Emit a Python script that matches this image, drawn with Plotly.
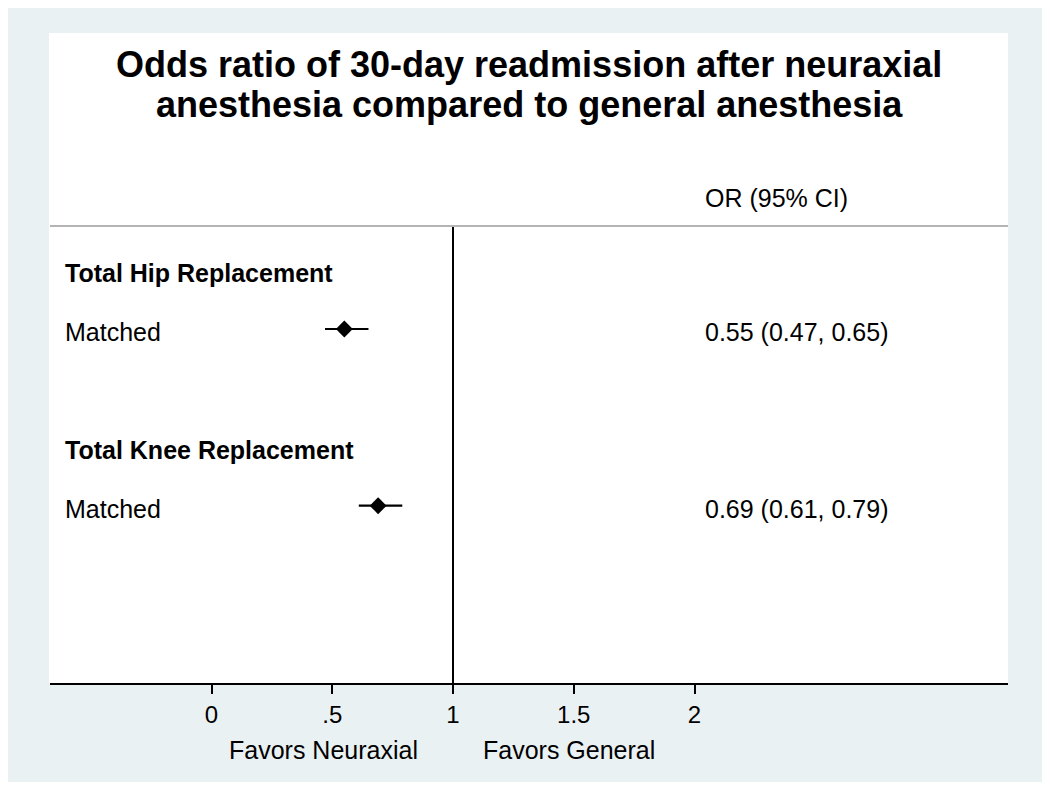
import plotly.graph_objects as go

# ---- data ----
groups = ["Total Hip Replacement", "Total Knee Replacement"]
row_labels = ["Matched", "Matched"]
odds_ratio = [0.55, 0.69]
ci_low = [0.47, 0.61]
ci_high = [0.65, 0.79]
or_text = ["0.55 (0.47, 0.65)", "0.69 (0.61, 0.79)"]
tick_vals = [0, 0.5, 1, 1.5, 2]
tick_text = ["0", ".5", "1", "1.5", "2"]
title_lines = ["Odds ratio of 30-day readmission after neuraxial",
               "anesthesia compared to general anesthesia"]
header_text = "OR (95% CI)"
favors = ["Favors Neuraxial", "Favors General"]

# row positions (heading row, estimate row) for each group
head_rows = [1, 4]
est_rows = [2, 5]

FONT = "Liberation Sans, Arial, sans-serif"
OFF = 8  # page body margin

# target page-pixel geometry of plot area
PL, PT, PR, PB = 50, 33, 1008, 683
W, H = PR - PL, PB - PT
FW, FH = 1050 - OFF, 789 - OFF
L, T = PL - OFF, PT - OFF

fig = go.Figure()
fig.add_trace(go.Scatter(
    x=odds_ratio, y=est_rows, mode="markers",
    marker=dict(symbol="diamond", size=13, color="black"),
    error_x=dict(type="data", symmetric=False,
                 array=[h - o for h, o in zip(ci_high, odds_ratio)],
                 arrayminus=[o - l for o, l in zip(odds_ratio, ci_low)],
                 thickness=2.2, width=0, color="black"),
    showlegend=False, hoverinfo="skip"))


def px_x(p):
    return (p - PL) / W


def px_y(p):
    return (PB - p) / H


shapes = [
    dict(type="rect", xref="paper", yref="paper", x0=px_x(7), x1=px_x(1043),
         y0=px_y(782), y1=px_y(6), fillcolor="#eaf1f3", line=dict(width=0), layer="below"),
    dict(type="rect", xref="paper", yref="paper", x0=px_x(49), x1=1,
         y0=0, y1=1, fillcolor="white", line=dict(width=0), layer="below"),
    dict(type="line", xref="paper", yref="paper", x0=0, x1=1,
         y0=px_y(226), y1=px_y(226), line=dict(color="#b4b4b4", width=2)),
    dict(type="line", xref="x", yref="paper", x0=1, x1=1,
         y0=0, y1=px_y(227), line=dict(color="black", width=2)),
]

ann = []
for i in range(len(groups)):
    ann.append(dict(text="<b>%s</b>" % groups[i], x=px_x(63), xref="paper", y=head_rows[i], yref="y",
                    xanchor="left", yanchor="middle", showarrow=False, yshift=-3,
                    font=dict(family=FONT, size=25, color="black")))
    ann.append(dict(text=row_labels[i], x=px_x(63), xref="paper", y=est_rows[i], yref="y",
                    xanchor="left", yanchor="middle", showarrow=False, yshift=-3,
                    font=dict(family=FONT, size=25, color="black")))
    ann.append(dict(text=or_text[i], x=px_x(703), xref="paper", y=est_rows[i], yref="y",
                    xanchor="left", yanchor="middle", showarrow=False, yshift=-3,
                    font=dict(family=FONT, size=25, color="black")))
ann.append(dict(text=header_text, x=px_x(703), xref="paper", y=px_y(198), yref="paper",
                xanchor="left", yanchor="middle", showarrow=False,
                font=dict(family=FONT, size=25, color="black")))
for i, t in enumerate(title_lines):
    ann.append(dict(text="<b>%s</b>" % t, x=0.5, xref="paper", y=px_y([65, 105][i]), yref="paper",
                    xanchor="center", yanchor="middle", showarrow=False,
                    font=dict(family=FONT, size=36, color="black")))
for t, cx in zip(favors, [323, 569]):
    ann.append(dict(text=t, x=px_x(cx), xref="paper", y=px_y(750), yref="paper",
                    xanchor="center", yanchor="middle", showarrow=False,
                    font=dict(family=FONT, size=25, color="black")))

x0_px, scale = 211.5, 241.5
y_px2, rowh = 329, 58.9

fig.update_layout(
    width=FW, height=FH,
    margin=dict(l=L, r=FW - L - W, t=T, b=FH - T - H),
    paper_bgcolor="white", plot_bgcolor="rgba(0,0,0,0)",
    xaxis=dict(range=[(PL - x0_px) / scale, (PR - x0_px) / scale],
               tickvals=tick_vals, ticktext=tick_text,
               showline=True, linecolor="black", linewidth=2,
               ticks="outside", ticklen=9, tickwidth=2, tickcolor="black",
               showgrid=False, zeroline=False,
               tickfont=dict(family=FONT, size=24, color="black")),
    yaxis=dict(range=[2 + (PB - y_px2) / rowh, 2 + (PT - y_px2) / rowh],
               visible=False, showgrid=False, zeroline=False),
    shapes=shapes, annotations=ann,
)

fig.write_html("out.html")
